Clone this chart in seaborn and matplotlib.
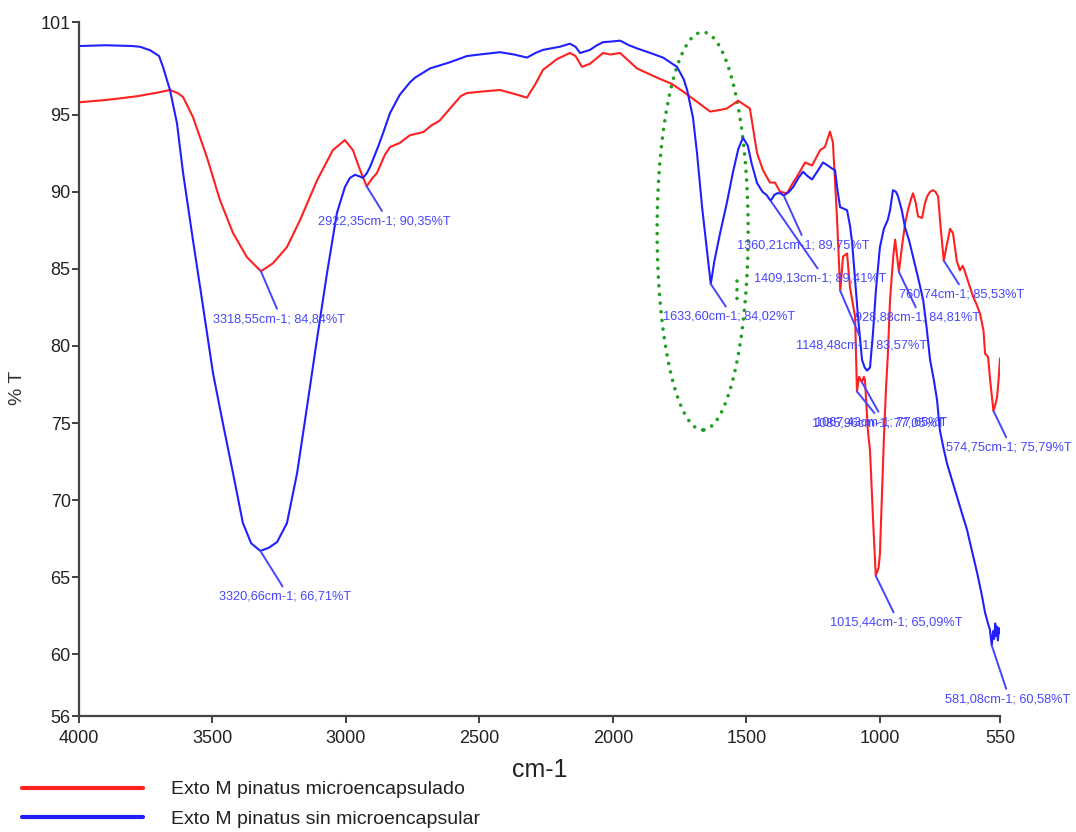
import matplotlib
matplotlib.use("Agg")
import matplotlib.pyplot as plt
from matplotlib.patches import Ellipse
import pandas as pd
import seaborn as sns

# ---- spectra -------------------------------------------------------------
red_name = "Exto M pinatus microencapsulado"
blue_name = "Exto M pinatus sin microencapsular"

red_cm = [4000, 3900, 3850, 3780, 3700, 3659, 3630, 3610, 3573, 3521, 3472, 3423,
          3371, 3318.55, 3273, 3221, 3172, 3108, 3049, 3004, 2974, 2947, 2922.35,
          2900, 2884, 2854, 2835, 2800, 2760, 2710, 2680, 2650, 2610, 2570, 2547,
          2490, 2423, 2360, 2322, 2290, 2262, 2210, 2161, 2140, 2116, 2086, 2037,
          2010, 1973, 1910, 1835, 1780, 1737, 1690, 1636, 1600, 1573, 1531, 1505,
          1487, 1460, 1438, 1412, 1393, 1374, 1348, 1325, 1310, 1280, 1254, 1224,
          1206, 1187, 1176, 1161, 1148.48, 1138, 1123, 1112, 1093, 1085.96, 1078,
          1067.43, 1060, 1056, 1045, 1037, 1025, 1015.44, 1005, 1000, 992, 985,
          977, 970, 962, 950, 943, 937, 928.88, 917, 905, 895, 884, 876, 866, 857,
          842, 832, 823, 812, 801, 792, 782, 772, 760.74, 750, 737, 726, 712, 700,
          690, 681, 670, 651, 638, 625, 612, 606, 595, 586, 574.75, 566, 561, 555,
          550]
red_t = [95.8, 95.95, 96.05, 96.2, 96.45, 96.6, 96.4, 96.14, 94.84, 92.25, 89.46,
         87.32, 85.76, 84.84, 85.37, 86.41, 88.16, 90.75, 92.7, 93.35, 92.7, 91.4,
         90.35, 90.9, 91.21, 92.4, 92.9, 93.15, 93.67, 93.87, 94.3, 94.6, 95.4, 96.2,
         96.4, 96.5, 96.6, 96.3, 96.1, 97.0, 97.9, 98.6, 99.0, 98.8, 98.1, 98.3,
         99.0, 98.9, 99.0, 98.0, 97.4, 97.0, 96.5, 95.9, 95.2, 95.3, 95.4, 95.9,
         95.6, 95.4, 92.5, 91.4, 90.6, 90.6, 90.0, 89.9, 90.6, 91.0, 91.9, 91.7,
         92.7, 92.9, 93.9, 93.2, 88.4, 83.57, 85.8, 86.0, 83.8, 81.9, 77.05, 78.0,
         77.65, 78.0, 77.8, 74.5, 73.2, 68.5, 65.09, 65.6, 66.5, 70.5, 74.0, 77.3,
         79.5, 83.0, 85.8, 86.9, 86.0, 84.81, 86.5, 88.0, 88.8, 89.5, 89.9, 89.3,
         88.4, 88.3, 89.2, 89.7, 90.0, 90.1, 90.0, 89.7, 87.6, 85.53, 86.5, 87.6,
         87.3, 85.5, 84.9, 85.2, 84.8, 84.2, 83.2, 82.7, 82.1, 81.0, 79.5, 79.3,
         77.6, 75.79, 76.3, 76.7, 77.9, 79.2]

blue_cm = [4000, 3900, 3800, 3771, 3734, 3700, 3685, 3659, 3633, 3610, 3573, 3535,
           3498, 3461, 3423, 3386, 3355, 3320.66, 3290, 3258, 3221, 3183, 3146,
           3109, 3071, 3034, 3004, 2985, 2966, 2950, 2936, 2922, 2910, 2880, 2861,
           2835, 2798, 2760, 2741, 2685, 2610, 2547, 2500, 2423, 2370, 2322, 2290,
           2262, 2200, 2161, 2140, 2123, 2086, 2060, 2037, 2000, 1973, 1940, 1910,
           1860, 1812, 1760, 1735, 1722, 1700, 1685, 1666, 1648, 1633.60, 1620,
           1600, 1573, 1550, 1530, 1513, 1495, 1480, 1460, 1440, 1425, 1409.13,
           1395, 1385, 1372, 1360.21, 1340, 1325, 1305, 1288, 1270, 1254, 1235,
           1213, 1195, 1179, 1168, 1158, 1149, 1135, 1123, 1112, 1104, 1093, 1082,
           1067, 1057, 1048, 1037, 1026, 1015, 1000, 985, 970, 962, 951, 940, 932,
           918, 906, 890, 876, 858, 838, 825, 812, 798, 786, 775, 762, 749, 730,
           711, 690, 674, 655, 636, 620, 606, 595, 588, 581.08, 576, 572, 568, 565,
           561, 558, 554, 550]
blue_t = [99.45, 99.5, 99.45, 99.4, 99.18, 98.8, 98.08, 96.59, 94.45, 91.21, 86.86,
          82.52, 78.24, 74.99, 71.75, 68.51, 67.2, 66.71, 66.9, 67.28, 68.51, 71.75,
          76.03, 80.38, 84.72, 88.61, 90.3, 90.9, 91.1, 91.0, 90.9, 91.2, 91.6,
          92.9, 93.8, 95.1, 96.3, 97.1, 97.4, 98.0, 98.4, 98.8, 98.9, 99.05, 98.9,
          98.7, 99.0, 99.2, 99.4, 99.6, 99.4, 99.0, 99.2, 99.5, 99.7, 99.75, 99.8,
          99.5, 99.3, 99.0, 98.7, 98.1, 97.3, 96.6, 94.8, 92.5, 89.0, 86.2, 84.02,
          85.5, 87.2, 89.3, 91.3, 92.8, 93.5, 93.0, 91.8, 90.56, 90.0, 89.8, 89.41,
          89.8, 89.9, 89.9, 89.75, 90.0, 90.3, 90.9, 91.3, 91.0, 90.8, 91.3, 91.9,
          91.7, 91.5, 91.4, 90.0, 89.0, 88.9, 88.8, 87.8, 86.7, 84.3, 81.9, 79.1,
          78.6, 78.4, 78.6, 80.8, 83.6, 86.4, 87.6, 88.2, 88.8, 90.1, 90.0, 89.7,
          88.8, 87.7, 86.8, 85.8, 84.5, 83.0, 81.2, 79.1, 77.8, 76.5, 74.5, 73.4,
          72.4, 71.3, 70.2, 69.0, 68.1, 66.7, 65.3, 64.0, 62.7, 62.0, 61.6, 60.58,
          61.5, 61.0, 62.0, 61.2, 61.8, 60.9, 61.7, 61.4]

# labelled peaks (wavenumber, %T)
peak_cm = [3318.55, 2922.35, 3320.66, 1633.60, 1360.21, 1409.13, 1148.48, 928.88,
           760.74, 1015.44, 574.75, 581.08, 1085.96, 1067.43]
peak_t = [84.84, 90.35, 66.71, 84.02, 89.75, 89.41, 83.57, 84.81,
          85.53, 65.09, 75.79, 60.58, 77.05, 77.65]

x_ticks = [4000, 3500, 3000, 2500, 2000, 1500, 1000, 550]
y_ticks = [56, 60, 65, 70, 75, 80, 85, 90, 95, 101]

# ---- layout of the peak labels (pixel offsets of label centre) -----------
label_dx = [18, 18, 25, 18, 20, 50, 21, 19, 18, 20, 15, 16, 21, 19]
label_dy = [48, 35, 46, 33, 50, 78, 55, 46, 34, 47, 37, 54, 32, 40]

RED = "#ff2020"
BLUE = "#2020ff"
LABEL_BLUE = "#4545ff"
GREEN = "#1f9e1f"

sns.set_style("ticks")
plt.rcParams["font.family"] = ["Liberation Sans", "DejaVu Sans"]

df = pd.concat([
    pd.DataFrame({"cm-1": red_cm, "%T": red_t, "muestra": red_name}),
    pd.DataFrame({"cm-1": blue_cm, "%T": blue_t, "muestra": blue_name}),
], ignore_index=True)

fig = plt.figure(figsize=(10.76, 8.32), dpi=100)
ax = fig.add_axes([0.0734, 0.1394, 0.856, 0.834])

sns.lineplot(data=df, x="cm-1", y="%T", hue="muestra",
             palette={red_name: RED, blue_name: BLUE},
             sort=False, estimator=None, linewidth=1.5, ax=ax)

ax.set_xlim(4000, 550)
ax.set_ylim(56, 101)
ax.set_xticks(x_ticks)
ax.set_xticklabels([str(v) for v in x_ticks])
ax.set_yticks(y_ticks)
ax.set_yticklabels([str(v) for v in y_ticks])
ax.tick_params(axis="both", direction="out", length=5, width=1.3,
               labelsize=13, colors="#333333")
ax.tick_params(axis="x", pad=5)
ax.tick_params(axis="y", pad=1)
for lbl in ax.get_xticklabels() + ax.get_yticklabels():
    lbl.set_color("#222222")
sns.despine(ax=ax)
for side in ("left", "bottom"):
    ax.spines[side].set_color("#444444")
    ax.spines[side].set_linewidth(1.6)

ax.set_xlabel("cm-1", fontsize=18, color="#222222", labelpad=8)
ax.set_ylabel("% T", fontsize=14, color="#333333")
ax.yaxis.set_label_coords(-0.058, 0.473)

# peak labels with leader lines
for cm, t, dx, dy in zip(peak_cm, peak_t, label_dx, label_dy):
    txt = (f"{cm:.2f}".replace(".", ",") + "cm-1; "
           + f"{t:.2f}".replace(".", ",") + "%T")
    ax.annotate(txt, xy=(cm, t), xytext=(dx, -dy), textcoords="offset pixels",
                ha="center", va="center", fontsize=9.2, color=LABEL_BLUE,
                annotation_clip=False,
                arrowprops=dict(arrowstyle="-", color=LABEL_BLUE, lw=1.4,
                                shrinkA=1, shrinkB=0, relpos=(0.5, 1.0)))

# dotted ellipse around the 1633 cm-1 band
ell = Ellipse((1664, 87.45), width=341, height=25.8, fill=False,
              edgecolor=GREEN, linewidth=2.6, linestyle=(0, (0.01, 2.4)))
ell.set_capstyle("round")
ax.add_patch(ell)
ax.plot([1535, 1535], [84.2, 82.9], color=GREEN, lw=2.6,
        linestyle=(0, (0.01, 2.4)), dash_capstyle="round")

sns.move_legend(ax, "upper left", bbox_to_anchor=(0.0204, 0.0615),
                bbox_transform=fig.transFigure, frameon=False, title=None,
                fontsize=14, handlelength=6.2, handletextpad=1.45,
                labelspacing=0.62, borderaxespad=0, borderpad=0)
leg = ax.get_legend()
for line in leg.get_lines():
    line.set_linewidth(3)
for t in leg.get_texts():
    t.set_color("#222222")

fig.savefig("out.png", dpi=100)
